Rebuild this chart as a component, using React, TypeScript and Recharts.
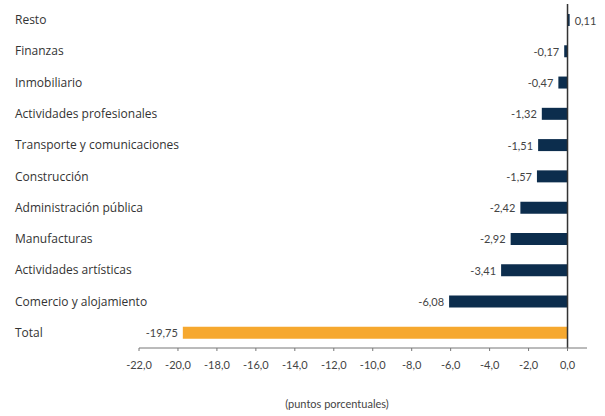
import { BarChart, Bar, XAxis, YAxis, Cell, LabelList, ReferenceLine } from "recharts";

const sectors = [
  "Resto",
  "Finanzas",
  "Inmobiliario",
  "Actividades profesionales",
  "Transporte y comunicaciones",
  "Construcción",
  "Administración pública",
  "Manufacturas",
  "Actividades artísticas",
  "Comercio y alojamiento",
  "Total",
];
const contributions = [0.11, -0.17, -0.47, -1.32, -1.51, -1.57, -2.42, -2.92, -3.41, -6.08, -19.75];
const xTicks = [-22, -20, -18, -16, -14, -12, -10, -8, -6, -4, -2, 0];

const NAVY = "#0c2d4d";
const ORANGE = "#f6a82f";
const FONT = "Lato, 'Open Sans', sans-serif";

const data = sectors.map((name, i) => ({ name, value: contributions[i] }));

const fmt = (v: number, d: number) => v.toFixed(d).replace(".", ",");

function CategoryTick({ y, payload }: any) {
  return (
    <text x={15} y={y} textAnchor="start" dominantBaseline="central" fontSize={12} fill="#333" fontFamily="'Open Sans', sans-serif">
      {payload.value}
    </text>
  );
}

function ValueLabel({ x, y, width, height, value }: any) {
  const left = Math.min(x, x + width);
  const right = Math.max(x, x + width);
  const neg = value < 0;
  return (
    <text
      x={neg ? left - 5 : right + 5}
      y={y + height / 2}
      textAnchor={neg ? "end" : "start"}
      dominantBaseline="central"
      fontSize={11}
      fill="#444"
      fontFamily={FONT}
    >
      {fmt(value, 2)}
    </text>
  );
}

export default function App() {
  return (
    <div style={{ position: "absolute", left: 0, top: 0, background: "#fff" }}>
      <BarChart width={605} height={416} data={data} layout="vertical" margin={{ top: 4, right: 18, bottom: 0, left: 0 }}>
        <XAxis
          type="number"
          domain={[-22, 1]}
          ticks={xTicks}
          tickFormatter={(v: number) => fmt(v, 1)}
          tick={{ fontSize: 11, fill: "#444", fontFamily: FONT }}
          axisLine={{ stroke: "#777" }}
          tickLine={{ stroke: "#777" }}
          tickSize={3}
          tickMargin={10}
          height={68}
          label={{
            content: () => (
              <text x={337} y={408} textAnchor="middle" fontSize={11} fill="#444" fontFamily={FONT}>
                (puntos porcentuales)
              </text>
            ),
          }}
        />
        <YAxis type="category" dataKey="name" width={139} axisLine={false} tickLine={false} tick={<CategoryTick />} interval={0} />
        <ReferenceLine x={0} stroke="#333" strokeWidth={1.5} />
        <Bar dataKey="value" barSize={12} isAnimationActive={false}>
          {data.map((d, i) => (
            <Cell key={i} fill={d.name === "Total" ? ORANGE : NAVY} />
          ))}
          <LabelList dataKey="value" content={<ValueLabel />} />
        </Bar>
      </BarChart>
    </div>
  );
}
